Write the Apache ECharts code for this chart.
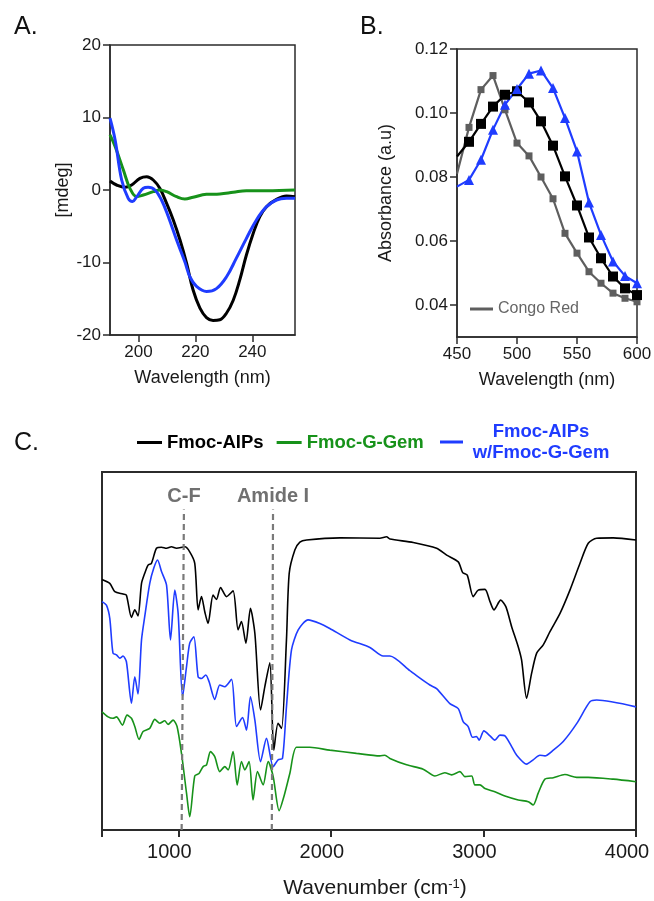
<!DOCTYPE html>
<html><head><meta charset="utf-8">
<script src="https://cdn.jsdelivr.net/npm/echarts@6/dist/echarts.min.js"></script>
<style>html,body{margin:0;padding:0;background:#fff}#c{width:654px;height:901px}</style>
</head><body><div id="c"></div><script>
// ---------- Panel A: CD spectra ----------
const cdBlackX = [190,192.3,195.3,197.6,200.5,202.9,205.2,207.5,209.9,212.2,214.6,216.9,219.2,221.6,223.9,226.2,228.6,230.9,233.3,235.6,237.9,240.3,242.6,245,248.5,252,255];
const cdBlackY = [1.24,0.69,0.37,0.69,1.61,1.84,1.38,0.23,-1.84,-4.1,-6.9,-10.1,-13.8,-16.3,-17.6,-18.0,-17.9,-17.0,-15.2,-12.4,-9.0,-6.0,-3.7,-2.3,-1.3,-0.83,-0.92];
const cdBlueX = [190,191.8,194.1,196.4,197.9,199.4,201.7,203.4,205.8,208.1,210.5,213.4,216.3,218.1,220.4,223.9,227.4,230.9,234.4,237.9,241.5,245,248.5,252,255];
const cdBlueY = [9.9,6.9,1.38,-1.15,-1.6,-0.92,0.23,0.37,0,-1.38,-3.7,-6.9,-9.9,-12.0,-13.3,-14.0,-13.6,-12.0,-9.4,-6.7,-4.1,-2.3,-1.38,-1.15,-1.15];
const cdGreenX = [190,191.8,194.7,197,199.4,201.7,205.2,207.5,209.9,213.4,216.3,219.2,223.9,228.6,233.3,237.9,245,255];
const cdGreenY = [7.6,6.0,2.76,0.23,-0.92,-0.69,-0.23,0,-0.23,-0.92,-1.24,-1.0,-0.6,-0.55,-0.32,-0.1,-0.1,0];
const cdXTicks = [200,220,240];

// ---------- Panel B: absorbance ----------
const absWavelength = [450,460,470,480,490,500,510,520,530,540,550,560,570,580,590,600];
const absCongoRed = [0.081,0.0955,0.1073,0.1117,0.101,0.0906,0.0866,0.080,0.0732,0.0624,0.0562,0.0504,0.0468,0.0437,0.0421,0.041];
const absAIPs = [0.0864,0.091,0.0966,0.102,0.1057,0.1068,0.1033,0.0974,0.0898,0.0802,0.0711,0.0611,0.0546,0.0489,0.0452,0.0431];
const absBlend = [0.077,0.0791,0.0854,0.0948,0.1026,0.1075,0.1123,0.1133,0.1078,0.0984,0.088,0.072,0.0619,0.0536,0.0491,0.0468];
const absYTicks = [0.04,0.06,0.08,0.10,0.12];

// ---------- Panel C: FTIR ----------
const irBlackX = [500,551,584,638,660,693,715,736,759,780,802,824,857,890,923,955,988,1043,1075,1108,1130,1152,1174,1195,1228,1250,1277,1316,1359,1392,1414,1443,1473,1502,1539,1567,1600,1626,1654,1677,1709,1727,1764,1797,1841,2059,2321,2365,2387,2540,2693,2759,2835,2864,2894,2933,2966,3010,3043,3069,3113,3147,3185,3228,3250,3283,3316,3349,3392,3436,3502,3567,3633,3687,3742,3851,4000];
const irBlackY = [70.0,68.9,66.6,65.9,65.6,59.4,61.5,59.8,68.9,71.7,74.0,74.5,78.7,79.0,78.7,79.1,78.7,79.1,77.7,74.5,61.5,65.2,60.9,57.7,65.6,64.4,67.7,65.2,66.8,55.9,58.2,52.2,61.9,54.9,33.5,40.0,46.7,22.3,29.8,28.4,53.1,71.7,78.2,80.4,81.0,81.6,81.5,81.9,81.3,80.3,78.7,76.8,74.9,71.9,71.2,65.2,67.0,67.2,63.8,61.5,64.2,62.4,56.8,51.2,47.5,36.8,43.8,49.4,51.7,55.4,60.5,67.0,74.5,80.1,81.5,81.6,81.0];
const irBlueX = [500,529,551,572,595,616,638,660,693,715,736,759,780,813,839,864,890,923,949,977,999,1028,1054,1075,1102,1130,1152,1180,1202,1239,1272,1305,1349,1382,1421,1447,1473,1502,1539,1578,1622,1654,1683,1709,1742,1786,1851,1928,1993,2125,2256,2343,2387,2518,2540,2649,2693,2780,2835,2867,2900,2929,2955,2972,3003,3043,3075,3108,3141,3185,3218,3283,3326,3370,3403,3458,3523,3611,3698,3742,4000];
const irBlueY = [63.8,62.8,59.1,49.4,48.9,48.0,48.6,47.0,35.4,42.8,38.0,53.1,59.6,68.9,73.1,75.4,72.2,68.4,53.1,67.0,60.5,37.2,45.6,52.2,54.0,42.8,42.3,43.3,41.4,36.5,40.5,40.0,42.1,28.9,31.4,27.9,37.2,30.7,19.1,25.6,17.7,19.6,20.0,34.4,50.3,55.9,58.7,57.7,56.3,53.1,51.0,48.6,48.6,44.5,43.8,40.5,39.5,35.3,33.9,30.3,28.9,25.9,26.1,25.1,27.7,26.3,25.1,26.5,26.3,23.3,20.9,18.4,19.6,20.9,20.7,22.3,24.7,29.7,35.8,36.3,34.4];
const irGreenX = [500,540,572,595,634,664,693,715,743,769,813,846,879,911,933,966,992,1021,1054,1075,1108,1136,1163,1185,1211,1239,1272,1305,1327,1359,1386,1414,1436,1464,1490,1519,1556,1589,1622,1661,1692,1731,1775,1862,1993,2168,2321,2354,2387,2496,2605,2682,2747,2791,2846,2879,2923,2944,2977,3010,3075,3141,3228,3294,3326,3359,3403,3458,3534,3611,3687,3851,4000];
const irGreenY = [33.0,31.6,31.2,31.6,29.3,32.1,31.2,28.9,25.3,27.5,28.4,30.9,29.8,30.5,29.5,30.7,28.9,21.4,10.3,3.7,15.1,15.8,17.7,18.2,21.9,20.5,16.3,17.7,16.8,21.9,12.6,19.1,16.8,19.1,8.4,16.3,12.6,19.1,14.9,5.4,9.3,15.8,23.1,23.1,22.3,21.4,20.7,20.9,20.0,18.2,17.0,15.1,16.0,15.4,16.3,14.9,15.1,12.6,12.6,11.6,10.7,9.5,8.4,7.9,7.0,10.3,14.2,14.6,15.5,14.7,14.7,14.2,13.5];
const irXTicks = [500,1000,2000,3000,4000];
const irXLabels = [1000,2000,3000,4000];
const irAnnotNames = ['C-F','Amide I'];
const irAnnotBottomX = [1022,1613];
const irAnnotTopX = [1037,1621];
const irAnnotTopY = 89.5;

const zip = (xs, ys) => xs.map((x, i) => [x, ys[i]]);

const BLACK = '#000000', BLUE = '#1f3cff', GREEN = '#17921a', GRAY = '#5e5e5e';
const AX = '#2b2b2b';
const FONT = 'Liberation Sans, Arial, sans-serif';

function valAxis(gi, o) {
  return Object.assign({
    type: 'value', gridIndex: gi, splitLine: { show: false },
    axisLine: { show: true, onZero: false, lineStyle: { color: AX, width: 1.5 } },
    axisTick: { show: true, length: 7, lineStyle: { color: AX, width: 1.5 } },
    axisLabel: { fontSize: 17, color: '#1a1a1a', fontFamily: FONT, margin: 9, formatter: v => String(v) },
    nameLocation: 'middle',
    nameTextStyle: { fontSize: 18, color: '#1a1a1a', fontFamily: FONT }
  }, o);
}

const chart = echarts.init(document.getElementById('c'), null, { renderer: 'canvas' });
chart.setOption({
  animation: false,
  backgroundColor: '#fff',
  textStyle: { fontFamily: FONT },
  title: [
    { text: 'A.', left: 9, top: 10, textStyle: { fontSize: 25, fontWeight: 'normal', color: '#111', fontFamily: FONT } },
    { text: 'B.', left: 355, top: 10, textStyle: { fontSize: 25, fontWeight: 'normal', color: '#111', fontFamily: FONT } },
    { text: 'C.', left: 9, top: 426, textStyle: { fontSize: 25, fontWeight: 'normal', color: '#111', fontFamily: FONT } }
  ],
  grid: [
    { left: 110, top: 45, width: 185, height: 290, show: true, borderColor: AX, borderWidth: 1.5, backgroundColor: 'transparent', outerBoundsMode: 'none', containLabel: false },
    { left: 457, top: 49, width: 180, height: 288, show: true, borderColor: AX, borderWidth: 1.5, backgroundColor: 'transparent', outerBoundsMode: 'none', containLabel: false },
    { left: 102, top: 472, width: 534, height: 358, show: true, borderColor: AX, borderWidth: 2, backgroundColor: 'transparent', outerBoundsMode: 'none', containLabel: false }
  ],
  legend: [
    { data: [{ name: 'Congo Red', icon: 'rect' }], left: 465, top: 296, itemWidth: 23, itemHeight: 3, itemGap: 10,
      textStyle: { fontSize: 16, color: '#666', fontFamily: FONT }, selectedMode: false },
    { data: [{ name: 'Fmoc-AIPs', icon: 'rect', textStyle: { color: BLACK } },
             { name: 'Fmoc-G-Gem', icon: 'rect', textStyle: { color: GREEN } }],
      left: 132, top: 428, itemWidth: 25, itemHeight: 3, itemGap: 13, selectedMode: false,
      textStyle: { fontSize: 18.5, fontWeight: 'bold', fontFamily: FONT } },
    { data: [{ name: 'Fmoc-AIPs w/Fmoc-G-Gem', icon: 'rect' }],
      left: 435, top: 417, itemWidth: 23, itemHeight: 3, selectedMode: false,
      formatter: () => '{a|Fmoc-AIPs}\n{a|w/Fmoc-G-Gem}',
      textStyle: { rich: { a: { width: 146, align: 'center', fontSize: 18.5, fontWeight: 'bold', color: BLUE, lineHeight: 21, fontFamily: FONT } } } }
  ],
  xAxis: [
    valAxis(0, { min: 190, max: 255, name: 'Wavelength (nm)', nameGap: 34,
      axisTick: { show: true, length: 7, customValues: cdXTicks, lineStyle: { color: AX, width: 1.5 } },
      axisLabel: { fontSize: 17, color: '#1a1a1a', fontFamily: FONT, margin: 9, customValues: cdXTicks, formatter: v => String(v) } }),
    valAxis(1, { min: 450, max: 600, interval: 50, name: 'Wavelength (nm)', nameGap: 34 }),
    valAxis(2, { min: 500, max: 4000, name: 'Wavenumber (cm{sup|-1})', nameGap: 48,
      axisLine: { show: true, onZero: false, lineStyle: { color: AX, width: 2 } },
      axisTick: { show: true, length: 7, customValues: irXTicks, lineStyle: { color: AX, width: 2 } },
      axisLabel: { fontSize: 20, color: '#1a1a1a', fontFamily: FONT, margin: 12, customValues: irXLabels,
        padding: [0, 18, 0, 0], formatter: v => String(v) },
      nameTextStyle: { fontSize: 21, color: '#1a1a1a', fontFamily: FONT, padding: [0, 0, 0, 12],
        rich: { sup: { fontSize: 13, verticalAlign: 'top', color: '#1a1a1a', padding: [0, 0, 8, 0] } } } })
  ],
  yAxis: [
    valAxis(0, { min: -20, max: 20, interval: 10, name: '[mdeg]', nameGap: 38 }),
    valAxis(1, { min: 0.03, max: 0.12, name: 'Absorbance (a.u)', nameGap: 62,
      axisTick: { show: true, length: 7, customValues: absYTicks, lineStyle: { color: AX, width: 1.5 } },
      axisLabel: { fontSize: 17, color: '#1a1a1a', fontFamily: FONT, margin: 9, customValues: absYTicks,
        formatter: v => v.toFixed(2) } }),
    valAxis(2, { min: 0, max: 100, axisTick: { show: false }, axisLabel: { show: false },
      axisLine: { show: true, onZero: false, lineStyle: { color: AX, width: 2 } } })
  ],
  series: [
    // Panel A
    { name: 'CD Fmoc-AIPs', type: 'line', xAxisIndex: 0, yAxisIndex: 0, data: zip(cdBlackX, cdBlackY),
      showSymbol: false, smooth: 0.4, lineStyle: { color: BLACK, width: 3 }, itemStyle: { color: BLACK } },
    { name: 'CD Fmoc-G-Gem', type: 'line', xAxisIndex: 0, yAxisIndex: 0, data: zip(cdGreenX, cdGreenY),
      showSymbol: false, smooth: 0.4, lineStyle: { color: GREEN, width: 3 }, itemStyle: { color: GREEN } },
    { name: 'CD blend', type: 'line', xAxisIndex: 0, yAxisIndex: 0, data: zip(cdBlueX, cdBlueY),
      showSymbol: false, smooth: 0.4, lineStyle: { color: BLUE, width: 3 }, itemStyle: { color: BLUE } },
    // Panel B
    { name: 'Congo Red', type: 'line', xAxisIndex: 1, yAxisIndex: 1,
      data: absWavelength.map((x, i) => i === 0 ? { value: [x, absCongoRed[i]], symbol: 'none' } : [x, absCongoRed[i]]),
      symbol: 'rect', symbolSize: 7, showAllSymbol: true,
      lineStyle: { color: GRAY, width: 2.2 }, itemStyle: { color: GRAY } },
    { name: 'Abs Fmoc-AIPs', type: 'line', xAxisIndex: 1, yAxisIndex: 1,
      data: absWavelength.map((x, i) => i === 0 ? { value: [x, absAIPs[i]], symbol: 'none' } : [x, absAIPs[i]]),
      symbol: 'rect', symbolSize: 10, showAllSymbol: true,
      lineStyle: { color: BLACK, width: 2.2 }, itemStyle: { color: BLACK } },
    { name: 'Abs blend', type: 'line', xAxisIndex: 1, yAxisIndex: 1,
      data: absWavelength.map((x, i) => i === 0 ? { value: [x, absBlend[i]], symbol: 'none' } : [x, absBlend[i]]),
      symbol: 'triangle', symbolSize: 10, showAllSymbol: true,
      lineStyle: { color: BLUE, width: 2.2 }, itemStyle: { color: BLUE } },
    // Panel C
    { name: 'Fmoc-AIPs', type: 'line', xAxisIndex: 2, yAxisIndex: 2, data: zip(irBlackX, irBlackY),
      showSymbol: false, smooth: 0.25, lineStyle: { color: BLACK, width: 1.6 }, itemStyle: { color: BLACK },
      markLine: { silent: true, symbol: 'none',
        lineStyle: { type: [6, 4], color: '#7a7a7a', width: 2.2 },
        label: { show: true, position: 'end', formatter: '{b}', color: '#707070', fontWeight: 'bold', fontSize: 20, distance: 3, fontFamily: FONT },
        data: irAnnotNames.map((n, i) => [{ name: n, coord: [irAnnotBottomX[i], 0] }, { coord: [irAnnotTopX[i], irAnnotTopY] }]) } },
    { name: 'Fmoc-AIPs w/Fmoc-G-Gem', type: 'line', xAxisIndex: 2, yAxisIndex: 2, data: zip(irBlueX, irBlueY),
      showSymbol: false, smooth: 0.25, lineStyle: { color: BLUE, width: 1.6 }, itemStyle: { color: BLUE } },
    { name: 'Fmoc-G-Gem', type: 'line', xAxisIndex: 2, yAxisIndex: 2, data: zip(irGreenX, irGreenY),
      showSymbol: false, smooth: 0.25, lineStyle: { color: GREEN, width: 1.6 }, itemStyle: { color: GREEN } }
  ]
});
</script></body></html>
